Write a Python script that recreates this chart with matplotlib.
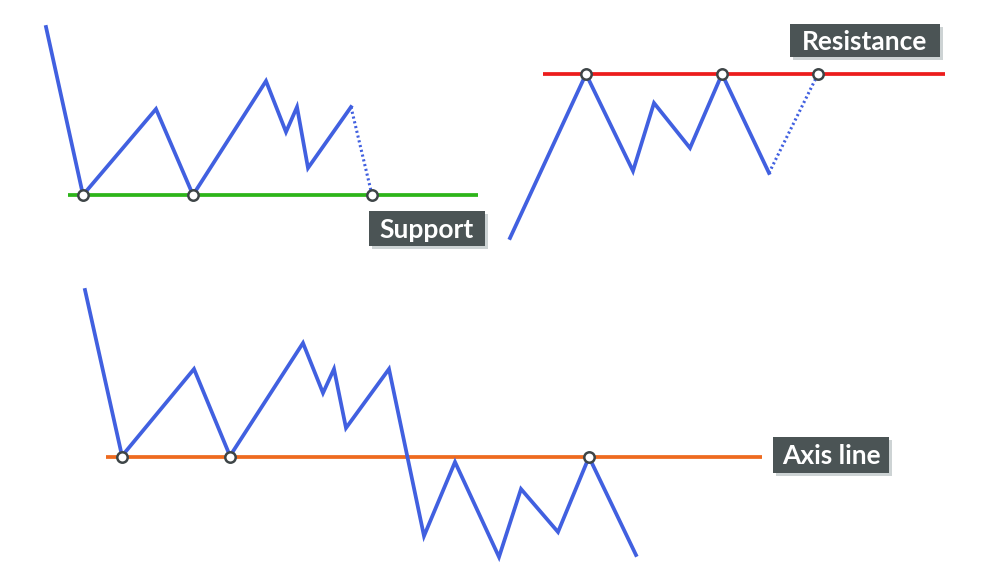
import matplotlib
matplotlib.use('Agg')
import matplotlib.pyplot as plt
from matplotlib.patches import Rectangle

# price paths (image pixel coordinates, y grows downward)
support_x = [46, 83, 156, 193, 266, 286, 297, 308, 351]
support_y = [27, 195, 109, 195, 81, 132, 107, 168, 107]
support_dot_x = [351, 372]
support_dot_y = [107, 195]
support_level = 195
support_span = [68, 478]
support_touch_x = [83, 193, 372]

resist_x = [510, 586, 633, 654, 690, 722, 769]
resist_y = [238, 74, 171, 103, 148, 74, 173]
resist_dot_x = [769, 818]
resist_dot_y = [173, 74]
resist_level = 74
resist_span = [543, 945]
resist_touch_x = [586, 722, 818]

axis_x = [85, 122, 194, 230, 303, 323, 334, 346, 389, 424, 455, 499, 521, 558, 589, 636]
axis_y = [290, 456, 369, 456, 343, 393, 369, 428, 369, 536, 462, 557, 489, 532, 457, 555]
axis_level = 457
axis_span = [106, 762]
axis_touch_x = [122, 230, 589]

# label boxes: text, left, top, right, bottom
labels = [
    ('Support', 369, 211, 485, 246),
    ('Resistance', 790, 24, 940, 57),
    ('Axis line', 773, 437, 889, 473),
]

blue = '#4160e0'
box_col = '#4b5455'
shadow_col = '#cdd3d4'

fig = plt.figure(figsize=(9.87, 5.76), dpi=100)
ax = fig.add_axes([0, 0, 1, 1])
ax.set_xlim(0, 987)
ax.set_ylim(576, 0)
ax.axis('off')

lw = 2.7


def draw_setup(px, py, dx, dy, level, span, touches, col):
    ax.plot(span, [level, level], color=col, lw=lw, solid_capstyle='butt', zorder=2)
    ax.plot(px, py, color=blue, lw=lw, solid_joinstyle='miter', zorder=3)
    if dx is not None:
        ax.plot(dx, dy, color=blue, lw=2.2, linestyle=(0, (0.7, 0.9)), zorder=3)
    ax.plot(touches, [level] * len(touches), 'o', ms=7.5, mfc='white',
            mec='#3e4547', mew=1.8, zorder=4)


draw_setup(support_x, support_y, support_dot_x, support_dot_y,
           support_level, support_span, support_touch_x, '#2db51a')
draw_setup(resist_x, resist_y, resist_dot_x, resist_dot_y,
           resist_level, resist_span, resist_touch_x, '#ec1c1c')
draw_setup(axis_x, axis_y, None, None,
           axis_level, axis_span, axis_touch_x, '#ee6a1f')

for txt, x0, y0, x1, y1 in labels:
    ax.add_patch(Rectangle((x0 + 3, y0 + 3), x1 - x0, y1 - y0, color=shadow_col, lw=0, zorder=5))
    ax.add_patch(Rectangle((x0, y0), x1 - x0, y1 - y0, color=box_col, lw=0, zorder=6))
    ax.text((x0 + x1) / 2, (y0 + y1) / 2 + 1, txt, color='white', fontsize=19,
            family='Lato', fontweight='bold', ha='center', va='center', zorder=7)

fig.savefig('out.png', dpi=100, facecolor='white')
